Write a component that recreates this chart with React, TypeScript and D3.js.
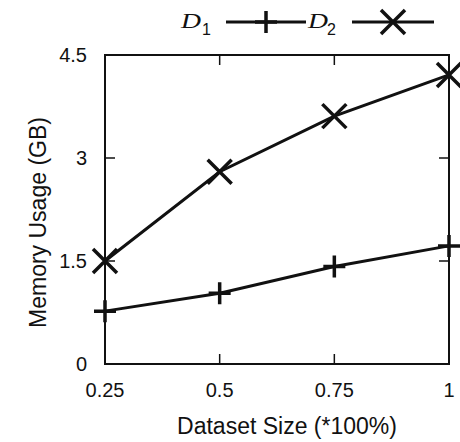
import React from "react";
import * as d3 from "d3";

const sizes = [0.25, 0.5, 0.75, 1];
const d1Values = [0.77, 1.03, 1.42, 1.72];
const d2Values = [1.5, 2.8, 3.61, 4.21];
const xTicks = [0.25, 0.5, 0.75, 1];
const xTickLabels = ["0.25", "0.5", "0.75", "1"];
const yTicks = [0, 1.5, 3, 4.5];
const yTickLabels = ["0", "1.5", "3", "4.5"];

const W = 460, H = 442;
const L = 105, R = 449, T = 55, B = 364;
const INK = "#111";
const SANS = "'Liberation Sans', Arial, sans-serif";
const SERIF = "'Liberation Serif', 'Times New Roman', serif";

export default function App() {
  const x = d3.scaleLinear().domain([0.25, 1]).range([L, R]);
  const y = d3.scaleLinear().domain([0, 4.5]).range([B, T]);
  const line = d3.line<number>().x((_, i) => x(sizes[i])).y((v) => y(v));
  const tl = 10;
  const plus = (cx: number, cy: number, s = 11) => `M${cx - s},${cy}H${cx + s}M${cx},${cy - s}V${cy + s}`;
  const cross = (cx: number, cy: number, s = 11) => `M${cx - s},${cy - s}L${cx + s},${cy + s}M${cx - s},${cy + s}L${cx + s},${cy - s}`;
  return (
    <svg width={W} height={H} style={{ position: "absolute", left: 0, top: 0, background: "#fff" }} fontFamily={SANS}>
      {xTicks.map((t, i) => (
        <g key={"xt" + i}>
          <line x1={x(t)} x2={x(t)} y1={B} y2={B - tl} stroke={INK} strokeWidth={1.5} />
          <line x1={x(t)} x2={x(t)} y1={T} y2={T + tl} stroke={INK} strokeWidth={1.5} />
          <text x={x(t)} y={397} textAnchor="middle" fontSize={20} fill={INK}>{xTickLabels[i]}</text>
        </g>
      ))}
      {yTicks.map((t, i) => (
        <g key={"yt" + i}>
          <line x1={L} x2={L + tl} y1={y(t)} y2={y(t)} stroke={INK} strokeWidth={1.5} />
          <line x1={R} x2={R - tl} y1={y(t)} y2={y(t)} stroke={INK} strokeWidth={1.5} />
          <text x={87} y={y(t) + 7} textAnchor="end" fontSize={20} fill={INK}>{yTickLabels[i]}</text>
        </g>
      ))}
      <rect x={L} y={T} width={R - L} height={B - T} fill="none" stroke={INK} strokeWidth={2} />
      <path d={line(d1Values) || ""} fill="none" stroke={INK} strokeWidth={3} />
      <path d={line(d2Values) || ""} fill="none" stroke={INK} strokeWidth={3} />
      {d1Values.map((v, i) => (
        <path key={"p1" + i} d={plus(x(sizes[i]), y(v))} stroke={INK} strokeWidth={3.5} />
      ))}
      {d2Values.map((v, i) => (
        <path key={"p2" + i} d={cross(x(sizes[i]), y(v), 12)} stroke={INK} strokeWidth={3.5} />
      ))}
      <text x={(L + R) / 2 + 10} y={434} textAnchor="middle" fontSize={23} fill={INK}>Dataset Size (*100%)</text>
      <text transform={`translate(46,${(T + B) / 2 + 13}) rotate(-90)`} textAnchor="middle" fontSize={23} fill={INK}>Memory Usage (GB)</text>
      <g>
        <text x={181} y={27.5} fontSize={20} fontStyle="italic" fontFamily={SERIF} textLength={20} lengthAdjust="spacingAndGlyphs" fill={INK}>D</text>
        <text x={202} y={35} fontSize={16} fill={INK}>1</text>
        <line x1={226} x2={306} y1={22} y2={22} stroke={INK} strokeWidth={3} />
        <path d={plus(266, 22)} stroke={INK} strokeWidth={3.5} />
        <text x={308} y={27.5} fontSize={20} fontStyle="italic" fontFamily={SERIF} textLength={20} lengthAdjust="spacingAndGlyphs" fill={INK}>D</text>
        <text x={327} y={35} fontSize={16} fill={INK}>2</text>
        <line x1={352} x2={434} y1={22} y2={22} stroke={INK} strokeWidth={3} />
        <path d={cross(393, 22, 12)} stroke={INK} strokeWidth={3.5} />
      </g>
    </svg>
  );
}
